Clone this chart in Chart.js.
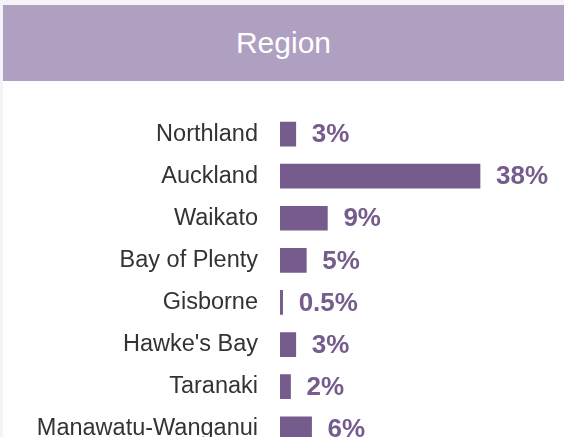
<!DOCTYPE html>
<html>
<head>
<meta charset="utf-8">
<script src="https://cdn.jsdelivr.net/npm/chart.js@4/dist/chart.umd.min.js"></script>
<style>
  html, body { margin: 0; padding: 0; background: #f4f3f8; overflow: hidden; width: 564px; height: 437px; }
  #wrap { position: absolute; left: 3px; top: 5px; width: 561px; height: 480px; background: #ffffff; overflow: hidden; }
  #header { position: absolute; left: 0; top: 0; width: 561px; height: 76px; background: #afa0c2; z-index: 2;
            color: #ffffff; font-family: "Liberation Sans", Arial, sans-serif; font-size: 30px;
            display: flex; align-items: center; justify-content: center; }
  #box { position: absolute; left: 0; top: 68px; width: 561px; height: 417px; z-index: 1; }
</style>
</head>
<body>
<div id="wrap">
  <div id="header">Region</div>
  <div id="box"><canvas id="c" width="561" height="417"></canvas></div>
</div>
<script>
const categories = ["Northland", "Auckland", "Waikato", "Bay of Plenty", "Gisborne", "Hawke's Bay", "Taranaki", "Manawatu-Wanganui"];
const values = [3, 38, 9, 5, 0.5, 3, 2, 6];
const valueLabels = ["3%", "38%", "9%", "5%", "0.5%", "3%", "2%", "6%"];

const barColor = "#755c8c";

const valueLabelPlugin = {
  id: "valueLabels",
  afterDatasetsDraw(chart) {
    const ctx = chart.ctx;
    const meta = chart.getDatasetMeta(0);
    ctx.save();
    ctx.font = "bold 26px 'Liberation Sans', Arial, sans-serif";
    ctx.fillStyle = barColor;
    ctx.textAlign = "left";
    ctx.textBaseline = "middle";
    meta.data.forEach((bar, i) => {
      ctx.fillText(valueLabels[i], bar.x + 16, bar.y + 1);
    });
    ctx.restore();
  }
};

new Chart(document.getElementById("c"), {
  type: "bar",
  data: {
    labels: categories,
    datasets: [{
      data: values,
      backgroundColor: barColor,
      borderWidth: 0,
      barThickness: 24
    }]
  },
  options: {
    indexAxis: "y",
    responsive: false,
    animation: false,
    events: [],
    layout: { padding: { top: 40, bottom: 40.2, left: 0, right: 20.8 } },
    plugins: { legend: { display: false }, tooltip: { enabled: false }, title: { display: false } },
    scales: {
      x: { display: false, min: 0, max: 50 },
      y: {
        afterFit(scale) { scale.width = 277; },
        grid: { display: false, drawTicks: false },
        border: { display: false },
        ticks: {
          padding: 22,
          color: "#333333",
          font: { family: "'Liberation Sans', Arial, sans-serif", size: 23.5 }
        }
      }
    }
  },
  plugins: [valueLabelPlugin]
});
</script>
</body>
</html>
